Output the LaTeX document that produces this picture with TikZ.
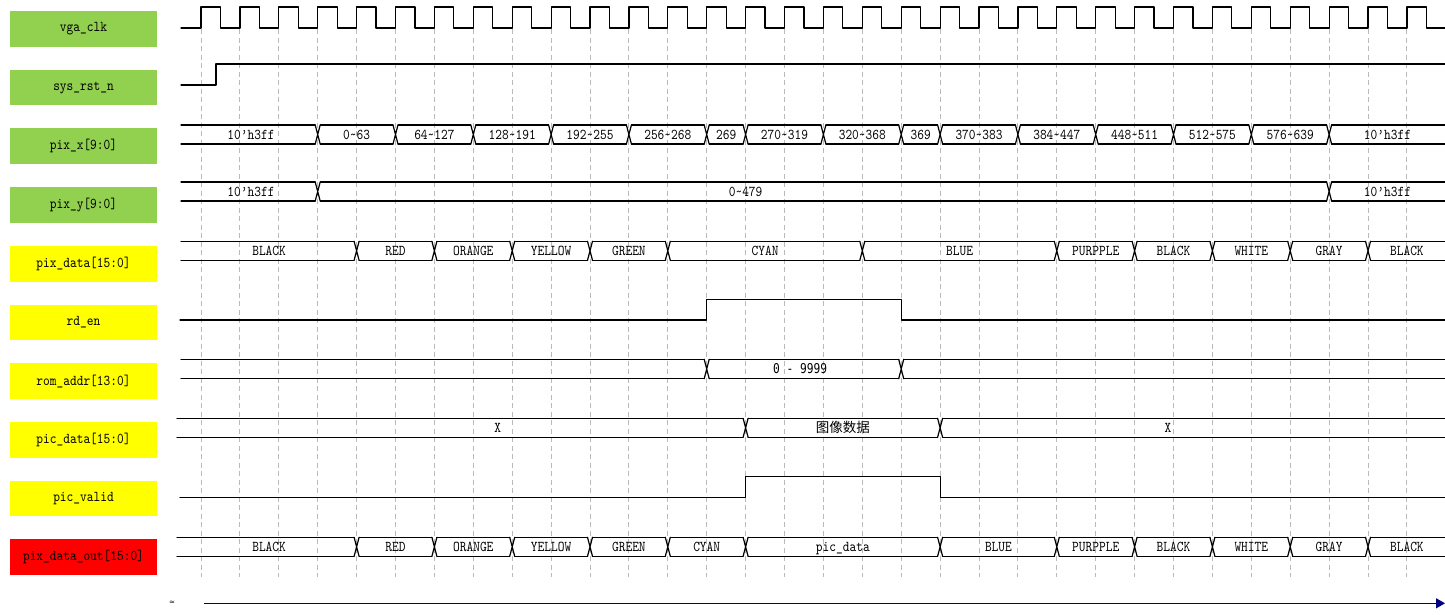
\documentclass[tikz,border=0pt]{standalone}
\usepackage{fontspec}
\usetikzlibrary{arrows.meta}
\newfontfamily\wavefont[Extension=.otf,FakeStretch=0.853]{lmmono10-regular}
\newfontfamily\numfont[FakeStretch=0.83]{DejaVu Sans Mono}
\newfontfamily\cjkfont{Noto Sans CJK SC}
\newfontfamily\symfont{DejaVu Sans}
\definecolor{sigg}{RGB}{146,208,80}
\definecolor{sigy}{RGB}{255,255,0}
\definecolor{sigr}{RGB}{255,0,0}
\definecolor{gridc}{RGB}{185,185,185}
\definecolor{arrc}{RGB}{0,0,128}
\newcommand\tld{\textasciitilde}
% bus: #1 top y, #2 bottom y, #3 boundary list x/shrink (first = start, last = end)
\newcommand\wbus[3]{%
  \foreach \xa/\da/\xb/\db in {#3} {%
    \draw[wave] ({\xa+\da},#1) -- ({\xb-\db},#1) ({\xa+\da},#2) -- ({\xb-\db},#2);
  }%
}
% transitions: #1 top y, #2 bottom y, #3 list of x
\newcommand\wcross[3]{%
  \foreach \tr in {#3} {%
    \draw[wave] ({\tr-2.5},#1) -- ({\tr+2.5},#2) ({\tr-2.5},#2) -- ({\tr+2.5},#1);
  }%
}
% labels: #1 y, #2 name prefix, #3 list a/b/text (grid indices)
\newcommand\blabels[3]{%
  \foreach \a/\b/\txt [count=\c] in {#3} {%
    \node[wtext] (#2\c) at ({(gx(\a)+gx(\b))/2},#1) {\txt};%
  }%
}
\begin{document}
\begin{tikzpicture}[x=1pt,y=-1pt,
  declare function={gx(\k)=201+38.9*\k;},
  wave/.style={black,line width=1.2pt,line cap=round,line join=round},
  gridline/.style={gridc,line width=0.9pt,dash pattern=on 5pt off 3.5pt},
  sigbox/.style={minimum width=147pt,minimum height=35.7pt,inner sep=0pt,draw=none,
     font=\wavefont\fontsize{15}{16}\selectfont},
  wtext/.style={inner sep=0pt,text height=9.2pt,text depth=0pt,
     font=\wavefont\fontsize{15}{16}\selectfont}]
\fill[white] (0,0) rectangle (1445,614);
\useasboundingbox (0,0) rectangle (1445,614);

% grid
\foreach \k in {0,...,31} \draw[gridline] ({gx(\k)},29) -- ({gx(\k)},577);

% signal name boxes
\foreach \nm/\txt/\col [count=\i from 0] in {
  clk/vga\_clk/sigg, rst/sys\_rst\_n/sigg, px/pix\_x[9:0]/sigg, py/pix\_y[9:0]/sigg,
  pd/pix\_data[15:0]/sigy, rd/rd\_en/sigy, ra/rom\_addr[13:0]/sigy,
  pc/pic\_data[15:0]/sigy, pv/pic\_valid/sigy, po/pix\_data\_out[15:0]/sigr}
  \node[sigbox,fill=\col] (box\nm) at (83.5,{11+58.7*\i+17.85}) {\txt};

% vga_clk
\draw[wave] (181,28) \foreach \k in {0,...,31} {
   -- ({gx(\k)},28) -- ({gx(\k)},7) -- ({gx(\k)+19.45},7) -- ({gx(\k)+19.45},28)} -- (1445,28);

% sys_rst_n
\draw[wave] (181,85) -- (216,85) -- (216,64) -- (1445,64);

% pix_x
\wbus{125}{144}{181/0/gx(3)/2.5, gx(3)/2.5/gx(5)/2.5, gx(5)/2.5/gx(7)/2.5, gx(7)/2.5/gx(9)/2.5,
  gx(9)/2.5/gx(11)/2.5, gx(11)/2.5/gx(13)/2.5, gx(13)/2.5/gx(14)/2.5, gx(14)/2.5/gx(16)/2.5,
  gx(16)/2.5/gx(18)/2.5, gx(18)/2.5/gx(19)/2.5, gx(19)/2.5/gx(21)/2.5, gx(21)/2.5/gx(23)/2.5,
  gx(23)/2.5/gx(25)/2.5, gx(25)/2.5/gx(27)/2.5, gx(27)/2.5/gx(29)/2.5, gx(29)/2.5/1445/0}
\wcross{125}{144}{gx(3),gx(5),gx(7),gx(9),gx(11),gx(13),gx(14),gx(16),gx(18),gx(19),gx(21),gx(23),gx(25),gx(27),gx(29)}
\blabels{134.5}{px}{-0.43/3/10’h3ff, 3/5/0\tld63, 5/7/64\tld127, 7/9/128\tld191, 9/11/192\tld255,
  11/13/256\tld268, 13/14/269, 14/16/270\tld319, 16/18/320\tld368, 18/19/369, 19/21/370\tld383,
  21/23/384\tld447, 23/25/448\tld511, 25/27/512\tld575, 27/29/576\tld639, 29/32/10’h3ff}

% pix_y
\wbus{182}{201}{181/0/gx(3)/2.5, gx(3)/2.5/gx(29)/2.5, gx(29)/2.5/1445/0}
\wcross{182}{201}{gx(3),gx(29)}
\blabels{191.5}{py}{-0.43/3/10’h3ff, 14/14/0\tld479, 29/32/10’h3ff}

% pix_data
\wbus{241.3}{260.3}{181/0/gx(4)/2.5, gx(4)/2.5/gx(6)/2.5, gx(6)/2.5/gx(8)/2.5, gx(8)/2.5/gx(10)/2.5,
  gx(10)/2.5/gx(12)/2.5, gx(12)/2.5/gx(17)/2.5, gx(17)/2.5/gx(22)/2.5, gx(22)/2.5/gx(24)/2.5,
  gx(24)/2.5/gx(26)/2.5, gx(26)/2.5/gx(28)/2.5, gx(28)/2.5/gx(30)/2.5, gx(30)/2.5/1445/0}
\wcross{241.3}{260.3}{gx(4),gx(6),gx(8),gx(10),gx(12),gx(17),gx(22),gx(24),gx(26),gx(28),gx(30)}
\blabels{250.8}{pd}{-0.5/4/BLACK, 4/6/RED, 6/8/ORANGE, 8/10/YELLOW, 10/12/GREEN, 12/17/CYAN,
  17/22/BLUE, 22/24/PURPPLE, 24/26/BLACK, 26/28/WHITE, 28/30/GRAY, 30/32/BLACK}

% rd_en
\draw[wave] (180,320) -- ({gx(13)},320) -- ({gx(13)},299.3) -- ({gx(18)},299.3) -- ({gx(18)},320) -- (1445,320);

% rom_addr
\wbus{359.3}{378.7}{181/0/gx(13)/2.5, gx(13)/2.5/gx(18)/2.5, gx(18)/2.5/1445/0}
\wcross{359.3}{378.7}{gx(13),gx(18)}
\node[inner sep=0pt,text height=9.5pt,text depth=0pt,font=\numfont\fontsize{13.5}{14}\selectfont]
  (ralab) at ({gx(15.4)},369) {0 - 9999};

% pic_data
\wbus{418.3}{437.3}{177/0/gx(14)/2.5, gx(14)/2.5/gx(19)/2.5, gx(19)/2.5/1445/0}
\wcross{418.3}{437.3}{gx(14),gx(19)}
\blabels{427.8}{pc}{7.63/7.63/X, 24.86/24.86/X}
\node[inner sep=0pt,font=\cjkfont\fontsize{13.5}{14}\selectfont] (pcimg) at ({(gx(14)+gx(19))/2},427.3) {图像数据};

% pic_valid
\draw[wave] (180,497.3) -- ({gx(14)},497.3) -- ({gx(14)},476.3) -- ({gx(19)},476.3) -- ({gx(19)},497.3) -- (1445,497.3);

% pix_data_out
\wbus{537.3}{556.3}{177/0/gx(4)/2.5, gx(4)/2.5/gx(6)/2.5, gx(6)/2.5/gx(8)/2.5, gx(8)/2.5/gx(10)/2.5,
  gx(10)/2.5/gx(12)/2.5, gx(12)/2.5/gx(14)/2.5, gx(14)/2.5/gx(19)/2.5, gx(19)/2.5/gx(22)/2.5,
  gx(22)/2.5/gx(24)/2.5, gx(24)/2.5/gx(26)/2.5, gx(26)/2.5/gx(28)/2.5, gx(28)/2.5/gx(30)/2.5,
  gx(30)/2.5/1445/0}
\wcross{537.3}{556.3}{gx(4),gx(6),gx(8),gx(10),gx(12),gx(14),gx(19),gx(22),gx(24),gx(26),gx(28),gx(30)}
\blabels{546.8}{po}{-0.5/4/BLACK, 4/6/RED, 6/8/ORANGE, 8/10/YELLOW, 10/12/GREEN, 12/14/CYAN,
  14/19/pic\_data, 19/22/BLUE, 22/24/PURPPLE, 24/26/BLACK, 26/28/WHITE, 28/30/GRAY, 30/32/BLACK}

% time arrow
\node[inner sep=0pt,font=\symfont\fontsize{7}{7}\selectfont] (tmark) at (172,602.5) {≈};
\coordinate (tstart) at (204,603.3);
\coordinate (tend) at (1445,603.3);
\draw[arrc,line width=1.2pt,-{Triangle[length=9pt,width=10pt]}] (tstart) -- (tend);
\end{tikzpicture}
\end{document}
